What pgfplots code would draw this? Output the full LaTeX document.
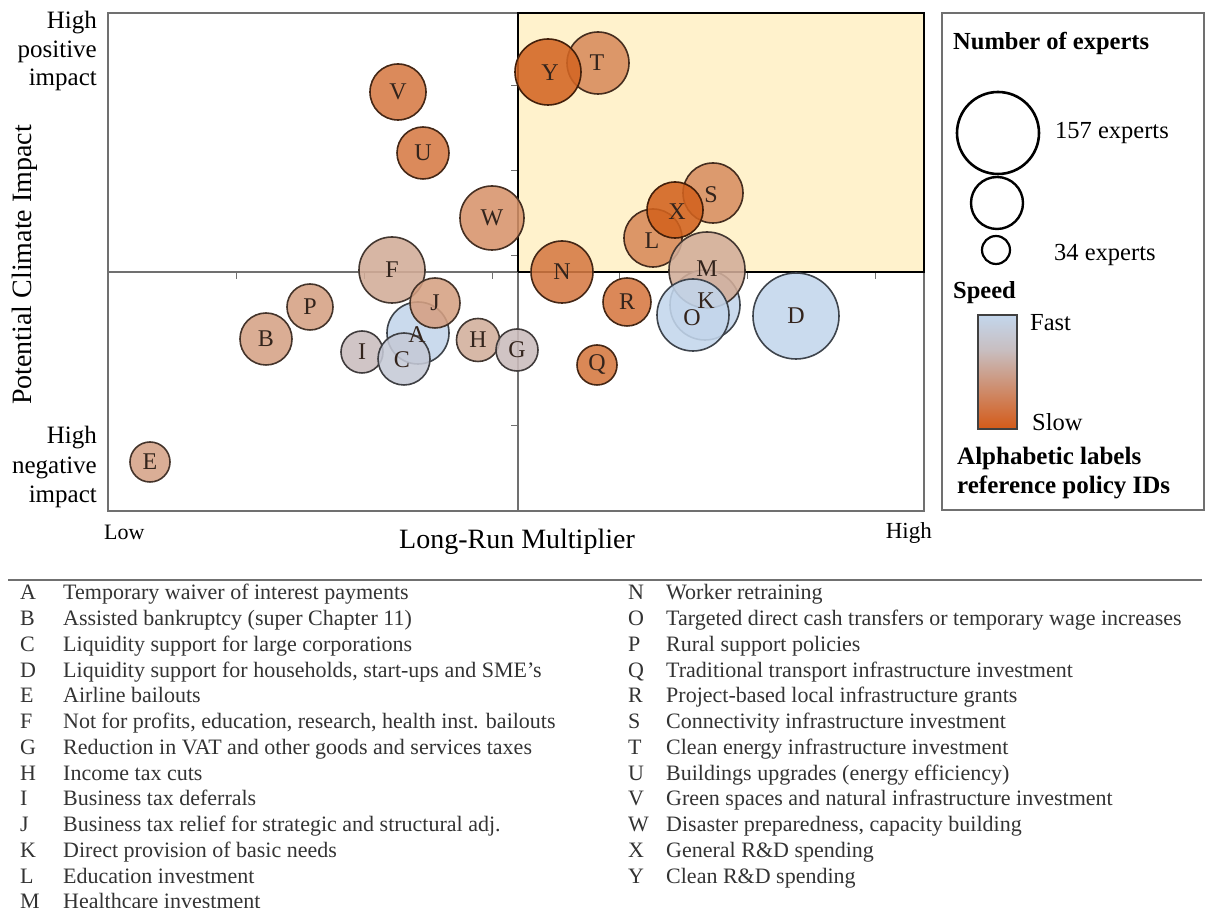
\documentclass[border=0pt]{standalone}
\usepackage{fontspec}
\setmainfont{Liberation Serif}
\usepackage{pgfplots}
\pgfplotsset{compat=1.18}
\usepackage{pgfplotstable}

\definecolor{framegray}{HTML}{707070}
\definecolor{boxfill}{HTML}{FFF2CC}
\definecolor{fastc}{HTML}{C3D6EC}
\definecolor{grayc}{HTML}{C8BEC0}
\definecolor{tanc}{HTML}{D4A084}
\definecolor{slowc}{HTML}{D45A18}
\definecolor{txt}{HTML}{333333}
\definecolor{lbl}{HTML}{33241C}

\newcommand{\fs}[1]{\fontsize{#1}{#1}\selectfont}

% policy bubbles: position (origin = centre of the quadrants), radius, speed (0 fast .. 1 slow), label position
\pgfplotstableread{
lab x y r s lx ly
D 278 -44 43 0.00 278 -44
K 187 -33 35 0.02 188 -29
L 135 34 29 0.75 134 31
M 189 2 38 0.45 189 3
O 175 -43 36 0.00 174 -46
S 195 79 30 0.72 193 77
X 157 62 28 1.00 159 60
T 80 209 31 0.74 79 209
Y 30 200 33 0.98 32 199
W -26 54 32 0.68 -26 54
N 44 0 31 0.85 44 0
F -126 2 33 0.46 -126 2
A -100 -61 31 0.02 -101 -63
J -83 -31 25 0.58 -83 -31
I -156 -80 21 0.30 -156 -80
C -114 -87 26 0.20 -116 -88
V -120 180 28 0.85 -120 180
U -95 119 26 0.85 -95 119
B -252 -67 26 0.56 -252 -67
P -208 -35 23 0.57 -208 -35
R 109 -30 24 0.86 109 -30
H -40 -68 21.5 0.44 -40 -68
G -1 -78 21 0.31 -1 -78
Q 79 -93 20 0.87 79 -93
E -368 -190 20 0.55 -368 -190
}\bubbles

\begin{document}
\begin{tikzpicture}
\useasboundingbox (0,0) rectangle (1208pt,908pt);
\begin{axis}[
  at={(108pt,397pt)}, anchor=south west,
  scale only axis, width=816pt, height=498pt,
  xmin=-410, xmax=406, ymin=-239, ymax=259,
  clip=false,
  axis lines=middle,
  axis line style={-, draw=framegray, line width=1.4pt},
  xtick={-282,-154,-26,101,229,357},
  ytick={-154,-69,16,101,186},
  xticklabels={}, yticklabels={},
  tick align=outside, major tick length=7pt,
  tick style={draw=framegray, line width=1pt},
  colormap={speed}{rgb255(0cm)=(195,214,236) rgb255(2cm)=(197,201,214)
    rgb255(3cm)=(201,189,190) rgb255(4.5cm)=(210,173,153) rgb255(6cm)=(214,158,126)
    rgb255(7.5cm)=(216,138,90) rgb255(8.5cm)=(214,122,68) rgb255(10cm)=(210,98,30)},
  point meta min=0, point meta max=1,
]
\draw[framegray, line width=1.3pt] (rel axis cs:0,0) rectangle (rel axis cs:1,1);
\addplot[fill=boxfill, draw=black, line width=2.4pt, line join=miter]
  coordinates {(0,0) (406,0) (406,259) (0,259) (0,0)};
\addplot[scatter, only marks, mark=*,
  point meta=\thisrow{s},
  scatter/use mapped color={draw=mapped color!32!black, fill=mapped color},
  visualization depends on={\thisrow{r}\as\rad},
  scatter/@pre marker code/.append style={/tikz/mark size=\rad},
  mark options={line width=1.6pt, fill opacity=0.88}]
  table[x=x, y=y] {\bubbles};
\addplot[draw=none, nodes near coords, point meta=explicit symbolic,
  every node near coord/.append style={anchor=center, inner sep=0pt, font=\fs{24}, text=lbl}]
  table[x=lx, y=ly, meta=lab] {\bubbles};
\end{axis}

\begin{scope}[x=1pt, y=-1pt, shift={(0pt,908pt)}, every node/.style={inner sep=0pt}]
% axis annotations
\node[anchor=east, font=\fs{25}] at (97,23) {High};
\node[anchor=east, font=\fs{25}] at (97,52) {positive};
\node[anchor=east, font=\fs{25}] at (97,80) {impact};
\node[anchor=east, font=\fs{25}] at (97,438) {High};
\node[anchor=east, font=\fs{25}] at (97,468) {negative};
\node[anchor=east, font=\fs{25}] at (97,497) {impact};
\node[rotate=90, font=\fs{28}] at (25,265) {Potential Climate Impact};
\node[font=\fs{28}] at (517,542) {Long-Run Multiplier};
\node[anchor=west, font=\fs{22}] at (104,532) {Low};
\node[anchor=east, font=\fs{23}] at (932,533) {High};

% legend
\draw[framegray, line width=1.3pt] (942,13) rectangle (1204,510);
\node[anchor=west, font=\bfseries\fs{24.5}] at (953,43) {Number of experts};
\draw[line width=2.6pt] (998,133) circle[radius=41pt];
\draw[line width=2.4pt] (997,203) circle[radius=26pt];
\draw[line width=2.2pt] (996,250) circle[radius=14pt];
\node[anchor=west, font=\fs{24.5}] at (1055,133) {157 experts};
\node[anchor=west, font=\fs{24.5}] at (1054,255) {34 experts};
\node[anchor=west, font=\bfseries\fs{24.5}] at (953,293) {Speed};
\shade[top color=fastc, bottom color=grayc] (978,315) rectangle (1017,350);
\shade[top color=grayc, middle color=tanc, bottom color=slowc] (978,350) rectangle (1017,429);
\draw[darkgray, line width=1.3pt] (978,315) rectangle (1017,429);
\node[anchor=west, font=\fs{24.5}] at (1030,323) {Fast};
\node[anchor=west, font=\fs{24.5}] at (1032,422) {Slow};
\node[anchor=west, font=\bfseries\fs{25}] at (957,458) {Alphabetic labels};
\node[anchor=west, font=\bfseries\fs{25}] at (957,487) {reference policy IDs};

% policy list
\draw[framegray, line width=2.6pt] (8,580) -- (1202,580);
\foreach \l/\t [count=\i from 0] in {
  A/{Temporary waiver of interest payments},
  B/{Assisted bankruptcy (super Chapter 11)},
  C/{Liquidity support for large corporations},
  D/{Liquidity support for households, start-ups and SME’s},
  E/{Airline bailouts},
  F/{Not for profits, education, research, health inst. bailouts},
  G/{Reduction in VAT and other goods and services taxes},
  H/{Income tax cuts},
  I/{Business tax deferrals},
  J/{Business tax relief for strategic and structural adj.},
  K/{Direct provision of basic needs},
  L/{Education investment},
  M/{Healthcare investment}}{
  \node[anchor=base west, font=\fs{22}, text=txt] at (20,600+25.75*\i) {\l};
  \node[anchor=base west, font=\fs{22}, text=txt] at (63,600+25.75*\i) {\t};
}
\foreach \l/\t [count=\i from 0] in {
  N/{Worker retraining},
  O/{Targeted direct cash transfers or temporary wage increases},
  P/{Rural support policies},
  Q/{Traditional transport infrastructure investment},
  R/{Project-based local infrastructure grants},
  S/{Connectivity infrastructure investment},
  T/{Clean energy infrastructure investment},
  U/{Buildings upgrades (energy efficiency)},
  V/{Green spaces and natural infrastructure investment},
  W/{Disaster preparedness, capacity building},
  X/{General R\&D spending},
  Y/{Clean R\&D spending}}{
  \node[anchor=base west, font=\fs{22}, text=txt] at (628,600+25.75*\i) {\l};
  \node[anchor=base west, font=\fs{22}, text=txt] at (666,600+25.75*\i) {\t};
}
\end{scope}
\end{tikzpicture}
\end{document}
